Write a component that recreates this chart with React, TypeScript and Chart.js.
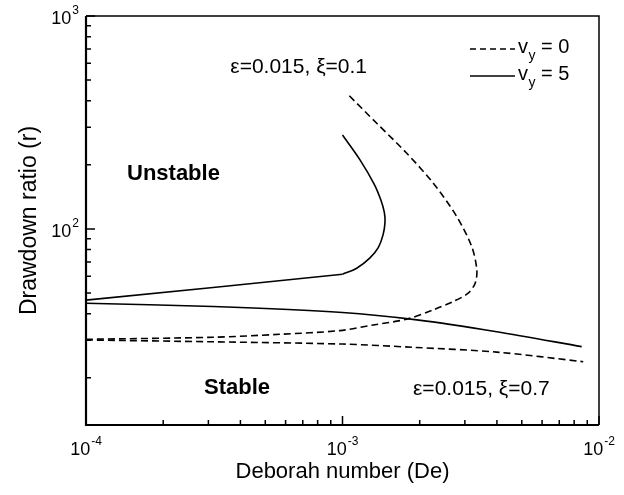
import React, { useEffect, useRef } from "react";
import { Chart, registerables } from "chart.js";
Chart.register(...registerables);

// ---- data ----
// v_y = 5, xi = 0.1 (solid) : straight branch and turning loop
const vy5Xi01LowDe = [1.0e-4, 3.13e-4, 1.0e-3];
const vy5Xi01LowR = [46.3, 53.1, 61.3];
const vy5Xi01LoopDe = [1.0e-3, 1.136e-3, 1.28e-3, 1.38e-3, 1.44e-3, 1.465e-3, 1.455e-3, 1.41e-3, 1.33e-3, 1.17e-3, 1.0e-3];
const vy5Xi01LoopR = [61.3, 65.4, 73.1, 82.0, 94.0, 107.9, 120.0, 137.0, 162.0, 211, 276];
// v_y = 0, xi = 0.1 (dashed)
const vy0Xi01De = [1e-4, 3.13e-4, 5.71e-4, 9.77e-4, 1.318e-3, 1.78e-3, 2.26e-3, 2.7e-3, 3.09e-3, 3.29e-3, 3.34e-3, 3.19e-3, 2.79e-3, 2.26e-3, 1.78e-3, 1.36e-3, 1.04e-3];
const vy0Xi01R = [30.3, 31.0, 32.0, 33.3, 35.4, 37.7, 41.7, 45.6, 49.9, 55.6, 64.2, 82.6, 114.2, 163.9, 226.7, 313.4, 433.5];
// v_y = 5, xi = 0.7 (solid)
const vy5Xi07De = [1e-4, 3.13e-4, 1e-3, 1.95e-3, 3.99e-3, 8.56e-3];
const vy5Xi07R = [44.8, 43.2, 40.5, 37.4, 32.9, 28.0];
// v_y = 0, xi = 0.7 (dashed)
const vy0Xi07De = [1e-4, 3.13e-4, 1e-3, 1.88e-3, 3.99e-3, 8.68e-3];
const vy0Xi07R = [30.1, 29.5, 28.8, 27.8, 26.4, 23.8];

// ---- axes ----
const xMin = 1e-4;
const xMax = 1e-2;
const yMin = 12;
const yMax = 1000;
const xMajorTicks = [1e-4, 1e-3, 1e-2];
const xMajorExp = ["-4", "-3", "-2"];
const yMajorTicks = [100, 1000];
const yMajorExp = ["2", "3"];
const minorMultipliers = [2, 3, 4, 5, 6, 7, 8, 9];
const xDecades = [1e-4, 1e-3];
const yDecades = [10, 100];

const xTitle = "Deborah number (De)";
const yTitle = "Drawdown ratio (r)";
const legendLabels = ["0", "5"];

const FONT = "'Liberation Sans', Arial, Helvetica, sans-serif";

const zip = (xs: number[], ys: number[]) => xs.map((x, i) => ({ x, y: ys[i] }));

function drawPow(ctx: CanvasRenderingContext2D, exp: string, x: number, y: number, align: "center" | "right", size: number) {
  ctx.font = `${size}px ${FONT}`;
  const wb = ctx.measureText("10").width;
  ctx.font = `${Math.round(size * 0.68)}px ${FONT}`;
  const we = ctx.measureText(exp).width;
  const total = wb + we + 1;
  const x0 = align === "center" ? x - total / 2 : x - total;
  ctx.textAlign = "left";
  ctx.textBaseline = "middle";
  ctx.font = `${size}px ${FONT}`;
  ctx.fillText("10", x0, y);
  ctx.font = `${Math.round(size * 0.68)}px ${FONT}`;
  ctx.fillText(exp, x0 + wb + 1, y - size * 0.45);
}

const framePlugin = {
  id: "frame",
  afterDatasetsDraw(chart: any) {
    const ctx: CanvasRenderingContext2D = chart.ctx;
    const xs = chart.scales.x;
    const ys = chart.scales.y;
    const { left, right, top, bottom } = chart.chartArea;
    ctx.save();
    ctx.fillStyle = "#000";
    ctx.strokeStyle = "#000";
    ctx.setLineDash([]);
    // frame
    ctx.lineWidth = 1.5;
    ctx.beginPath();
    ctx.moveTo(left, top);
    ctx.lineTo(right, top);
    ctx.lineTo(right, bottom);
    ctx.stroke();
    ctx.lineWidth = 2.2;
    ctx.beginPath();
    ctx.moveTo(left, top);
    ctx.lineTo(left, bottom);
    ctx.lineTo(right, bottom);
    ctx.stroke();
    // ticks
    ctx.lineWidth = 1.5;
    ctx.beginPath();
    for (const d of xDecades) {
      for (const m of minorMultipliers) {
        const px = xs.getPixelForValue(d * m);
        ctx.moveTo(px, bottom);
        ctx.lineTo(px, bottom - 5);
      }
    }
    for (const v of xMajorTicks) {
      const px = xs.getPixelForValue(v);
      ctx.moveTo(px, bottom);
      ctx.lineTo(px, bottom - 9);
    }
    for (const d of yDecades) {
      for (const m of minorMultipliers) {
        const v = d * m;
        if (v < yMin) continue;
        const py = ys.getPixelForValue(v);
        ctx.moveTo(left, py);
        ctx.lineTo(left + 5, py);
      }
    }
    for (const v of yMajorTicks) {
      const py = ys.getPixelForValue(v);
      ctx.moveTo(left, py);
      ctx.lineTo(left + 9, py);
    }
    ctx.stroke();
    // tick labels
    xMajorTicks.forEach((v, i) => {
      drawPow(ctx, xMajorExp[i], xs.getPixelForValue(v), bottom + 25, "center", 18);
    });
    yMajorTicks.forEach((v, i) => {
      drawPow(ctx, yMajorExp[i], left - 7, ys.getPixelForValue(v) + 3, "right", 18);
    });
    // axis titles
    ctx.font = `22px ${FONT}`;
    ctx.textAlign = "center";
    ctx.textBaseline = "middle";
    ctx.fillText(xTitle, (left + right) / 2, 472);
    ctx.save();
    ctx.translate(30, (top + bottom) / 2);
    ctx.rotate(-Math.PI / 2);
    ctx.font = `23px ${FONT}`;
    ctx.fillText(yTitle, 0, 0);
    ctx.restore();
    // region labels
    ctx.textAlign = "left";
    ctx.font = `bold 22px ${FONT}`;
    ctx.fillText("Unstable", 127, 174);
    ctx.fillText("Stable", 204, 388);
    ctx.font = `21px ${FONT}`;
    ctx.fillText("\u03b5=0.015, \u03be=0.7", 413, 389);
    ctx.textAlign = "right";
    ctx.fillText("\u03b5=0.015, \u03be=0.1", 367, 67);
    // legend
    const rows = [49, 76];
    rows.forEach((ry, i) => {
      ctx.lineWidth = 1.6;
      ctx.setLineDash(i === 0 ? [6, 4] : []);
      ctx.beginPath();
      ctx.moveTo(470, ry);
      ctx.lineTo(515, ry);
      ctx.stroke();
      ctx.setLineDash([]);
      ctx.textAlign = "left";
      ctx.font = `20px ${FONT}`;
      ctx.fillText("v", 518, ry - 2);
      const wv = ctx.measureText("v").width;
      ctx.font = `14px ${FONT}`;
      ctx.fillText("y", 518 + wv + 0.5, ry + 7);
      ctx.font = `20px ${FONT}`;
      ctx.fillText("= " + legendLabels[i], 518 + wv + 13, ry - 2);
    });
    ctx.restore();
  },
};

export default function App() {
  const ref = useRef<HTMLCanvasElement>(null);
  useEffect(() => {
    if (!ref.current) return;
    const lineBase = {
      showLine: true,
      pointRadius: 0,
      borderColor: "#000",
      backgroundColor: "#000",
      borderWidth: 1.6,
      fill: false,
    };
    const chart = new Chart(ref.current, {
      type: "scatter",
      data: {
        datasets: [
          { ...lineBase, label: "vy5xi01a", data: zip(vy5Xi01LowDe, vy5Xi01LowR), tension: 0 },
          { ...lineBase, label: "vy5xi01b", data: zip(vy5Xi01LoopDe, vy5Xi01LoopR), tension: 0.35 },
          { ...lineBase, label: "vy0xi01", data: zip(vy0Xi01De, vy0Xi01R), tension: 0.3, borderDash: [7, 4] },
          { ...lineBase, label: "vy5xi07", data: zip(vy5Xi07De, vy5Xi07R), tension: 0.3 },
          { ...lineBase, label: "vy0xi07", data: zip(vy0Xi07De, vy0Xi07R), tension: 0.3, borderDash: [7, 4] },
        ],
      },
      options: {
        animation: false,
        responsive: false,
        layout: { padding: { left: 86, right: 25, top: 16, bottom: 70 } },
        scales: {
          x: { type: "logarithmic", min: xMin, max: xMax, display: false },
          y: { type: "logarithmic", min: yMin, max: yMax, display: false },
        },
        plugins: { legend: { display: false }, tooltip: { enabled: false } },
      },
      plugins: [framePlugin],
    } as any);
    return () => chart.destroy();
  }, []);
  return (
    <div style={{ position: "fixed", left: 0, top: 0, width: 624, height: 495, background: "#fff" }}>
      <canvas ref={ref} width={624} height={495} style={{ display: "block" }} />
    </div>
  );
}
